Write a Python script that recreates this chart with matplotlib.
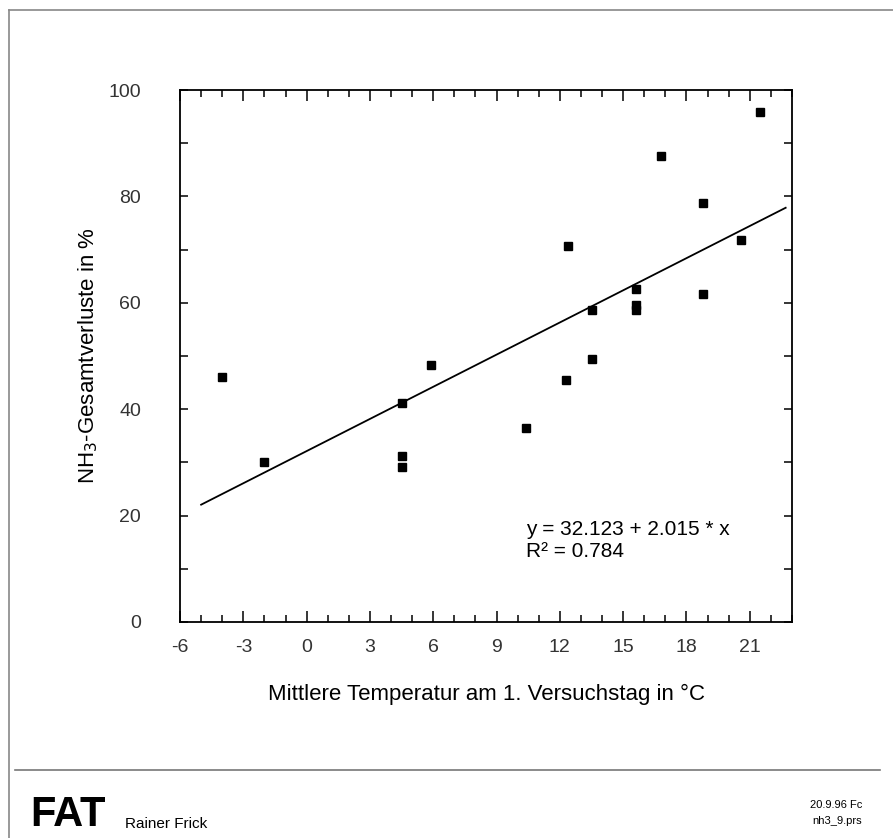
import numpy as np
import matplotlib
matplotlib.use('Agg')
import matplotlib.pyplot as plt
from matplotlib.ticker import MultipleLocator
from matplotlib.lines import Line2D

plt.rcParams['font.family'] = ['Liberation Sans', 'DejaVu Sans']
plt.rcParams['axes.unicode_minus'] = False

# measured points
temp = [-4, -2, 4.5, 4.5, 4.5, 5.9, 10.4, 12.3, 12.4, 13.5, 13.5,
        15.6, 15.6, 15.6, 16.8, 18.8, 18.8, 20.6, 21.5]
loss = [46.0, 30.0, 41.2, 31.2, 29.2, 48.3, 36.5, 45.5, 70.6, 58.6, 49.5,
        62.6, 59.6, 58.6, 87.6, 78.8, 61.7, 71.8, 95.8]

# regression as printed on the chart
intercept = 32.123
slope = 2.015
r2 = 0.784
fit_x = [-5.0, 22.7]

x_ticks = [-6, -3, 0, 3, 6, 9, 12, 15, 18, 21]
y_ticks = [0, 20, 40, 60, 80, 100]

fig = plt.figure(figsize=(8.93, 8.38), dpi=100)
ax = fig.add_axes([0.2016, 0.2578, 0.6853, 0.6348])

ax.plot(temp, loss, 's', color='black', ms=5.5, zorder=3)
fit_y = [intercept + slope * v for v in fit_x]
ax.plot(fit_x, fit_y, color='black', lw=1.3)

ax.set_xlim(-6, 23)
ax.set_ylim(0, 100)
ax.set_xticks(x_ticks)
ax.set_yticks(y_ticks)
ax.xaxis.set_minor_locator(MultipleLocator(1))
ax.yaxis.set_minor_locator(MultipleLocator(10))
ax.tick_params(axis='both', which='both', direction='in', top=True, right=True,
               width=1.1, colors='black', labelcolor='#333333', labelsize=14)
ax.tick_params(axis='x', which='major', length=8, pad=12)
ax.tick_params(axis='x', which='minor', length=5)
ax.tick_params(axis='y', which='both', length=6, pad=28)
for s in ax.spines.values():
    s.set_linewidth(1.3)

ax.set_xlabel('Mittlere Temperatur am 1. Versuchstag in °C', fontsize=16, labelpad=20)
ax.set_ylabel('NH$_3$-Gesamtverluste in %', fontsize=16, labelpad=6)

ax.text(10.4, 16.4, f'y = {intercept:.3f} + {slope:.3f} * x', fontsize=15)
ax.text(10.4, 12.2, f'R\u00b2 = {r2:.3f}', fontsize=15)

# page frame and footer
fig.add_artist(Line2D([9/893, 9/893], [0, 1 - 10/838], color='#888888', lw=1.2))
fig.add_artist(Line2D([9/893, 1], [1 - 10/838, 1 - 10/838], color='#888888', lw=1.2))
fig.add_artist(Line2D([15/893, 880/893], [1 - 770/838, 1 - 770/838], color='#777777', lw=1.2))

fig.text(30/893, 1 - 826/838, 'FAT', fontsize=30, fontweight='heavy',
         fontstretch='condensed', color='black')
fig.text(125/893, 1 - 828/838, 'Rainer Frick', fontsize=11)
fig.text(862/893, 1 - 808/838, '20.9.96 Fc', fontsize=8, ha='right')
fig.text(862/893, 1 - 824/838, 'nh3_9.prs', fontsize=8, ha='right')

fig.savefig('out.png', dpi=100)
